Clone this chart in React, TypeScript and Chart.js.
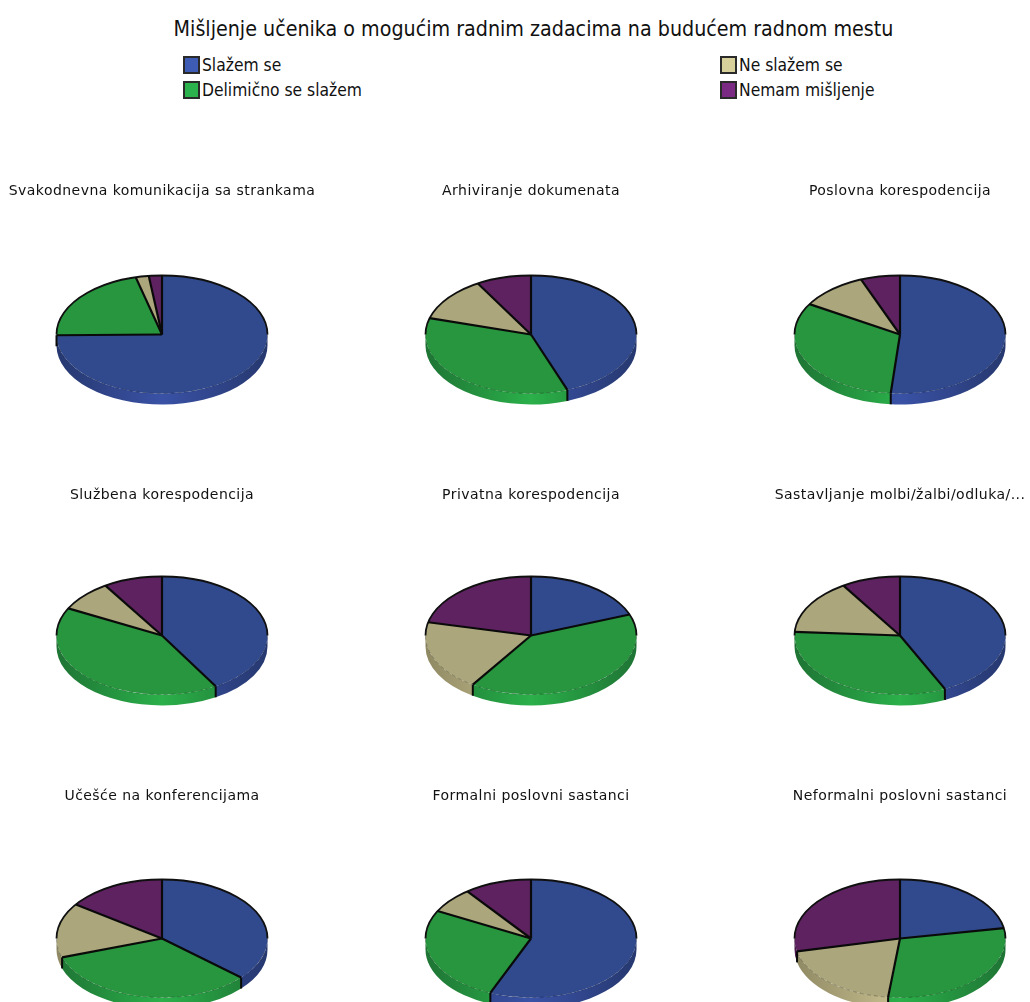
import React, { useEffect, useRef } from "react";
import { Chart, registerables } from "chart.js";

Chart.register(...registerables);

const mainTitle = "Mišljenje učenika o mogućim radnim zadacima na budućem radnom mestu";
const responses = ["Slažem se", "Delimično se slažem", "Ne slažem se", "Nemam mišljenje"];
const categories = [
  "Svakodnevna komunikacija sa strankama",
  "Arhiviranje dokumenata",
  "Poslovna korespodencija",
  "Službena korespodencija",
  "Privatna korespodencija",
  "Sastavljanje molbi/žalbi/odluka/...",
  "Učešće na konferencijama",
  "Formalni poslovni sastanci",
  "Neformalni poslovni sastanci",
];
const slazem = [74.8, 44.4, 51.4, 41.5, 19.2, 43, 36.5, 56.3, 22.2];
const delimicno = [21.2, 35.1, 32.2, 41.1, 40.1, 33, 33.3, 26.4, 29.6];
const neSlazem = [2, 12.1, 10.4, 8.4, 19.3, 15, 15, 7, 19.7];
const nemam = [2, 8.4, 6, 9, 21.4, 9, 15.2, 10.3, 28.5];

const topColors = ["#314a8d", "#27963e", "#aba67b", "#5e2260"];
const rimMid = ["#3a52a6", "#2bb04a", "#c9c091", "#6d2872"];
const rimEdge = ["#26386f", "#1e7434", "#8f8963", "#4a1a4c"];
const legendColors = ["#3f5cb4", "#2bb24c", "#d8d09b", "#7b2a84"];

const FONT = '"DejaVu Sans Condensed", "DejaVu Sans", sans-serif';
const SUB_FONT = '"DejaVu Sans", sans-serif';
const CANVAS_W = 330;
const RADIUS = 105.5;
const RY = 59;
const DEPTH = 11;
const centersX = [162, 531, 900];
const centersY = [334, 635, 938];
const titlesY = [191, 495, 796];

const pie3d = {
  id: "pie3d",
  beforeDraw(chart: any) {
    chart.ctx.letterSpacing = "0.45px";
  },
  beforeDatasetsDraw(chart: any) {
    const ctx = chart.ctx;
    const arcs = chart.getDatasetMeta(0).data;
    if (!arcs.length) return;
    const cx = arcs[0].x;
    const cy = arcs[0].y;
    const r = arcs[0].outerRadius;
    const ry = (r * RY) / RADIUS;
    arcs.forEach((arc: any, i: number) => {
      const a = Math.max(arc.startAngle, 0);
      const b = Math.min(arc.endAngle, Math.PI);
      if (b > a) {
        const g = ctx.createLinearGradient(cx - r, 0, cx + r, 0);
        g.addColorStop(0, rimEdge[i]);
        g.addColorStop(0.5, rimMid[i]);
        g.addColorStop(1, rimEdge[i]);
        ctx.beginPath();
        ctx.ellipse(cx, cy, r, ry, 0, a, b);
        ctx.ellipse(cx, cy + DEPTH, r, ry, 0, b, a, true);
        ctx.closePath();
        ctx.fillStyle = g;
        ctx.fill();
      }
    });
    ctx.save();
    ctx.translate(cx, cy);
    ctx.scale(1, RY / RADIUS);
    ctx.translate(-cx, -cy);
  },
  afterDatasetsDraw(chart: any) {
    const ctx = chart.ctx;
    const arcs = chart.getDatasetMeta(0).data;
    if (!arcs.length) return;
    ctx.restore();
    const cx = arcs[0].x;
    const cy = arcs[0].y;
    const r = arcs[0].outerRadius;
    const ry = (r * RY) / RADIUS;
    ctx.save();
    ctx.beginPath();
    ctx.ellipse(cx, cy, r, ry, 0, 0, Math.PI);
    ctx.setLineDash([4, 3]);
    ctx.lineWidth = 1;
    ctx.strokeStyle = "rgba(0,0,0,0.25)";
    ctx.stroke();
    ctx.setLineDash([]);
    ctx.beginPath();
    ctx.ellipse(cx, cy, r, ry, 0, Math.PI, 2 * Math.PI);
    ctx.lineWidth = 1.8;
    ctx.strokeStyle = "#101010";
    ctx.stroke();
    arcs.forEach((arc: any) => {
      const t = arc.startAngle;
      const px = cx + r * Math.cos(t);
      const py = cy + ry * Math.sin(t);
      ctx.beginPath();
      ctx.moveTo(cx, cy);
      ctx.lineTo(px, py);
      ctx.lineWidth = 2.2;
      ctx.strokeStyle = "#0a0a0a";
      ctx.stroke();
      if (Math.sin(t) > 0) {
        ctx.beginPath();
        ctx.moveTo(px, py);
        ctx.lineTo(px, py + DEPTH);
        ctx.lineWidth = 2;
        ctx.stroke();
      }
    });
    ctx.restore();
  },
};

function Pie({ index }: { index: number }) {
  const ref = useRef<HTMLCanvasElement | null>(null);
  const col = index % 3;
  const row = Math.floor(index / 3);
  const top = titlesY[row] - 8;
  const areaTop = Math.round(centersY[row] - RADIUS - top);
  useEffect(() => {
    const chart = new Chart(ref.current as HTMLCanvasElement, {
      type: "pie",
      data: {
        labels: responses,
        datasets: [
          {
            data: [slazem[index], delimicno[index], neSlazem[index], nemam[index]],
            backgroundColor: topColors,
            borderWidth: 0,
            hoverOffset: 0,
          },
        ],
      },
      options: {
        responsive: false,
        animation: false,
        layout: { padding: 0 },
        plugins: {
          legend: { display: false },
          tooltip: { enabled: false },
          title: {
            display: true,
            text: categories[index],
            color: "#111",
            font: { family: SUB_FONT, size: 14, weight: "normal", lineHeight: 1.2 },
            padding: { top: 0, bottom: areaTop - 16.8 },
          },
        },
      },
      plugins: [pie3d],
    } as any);
    return () => chart.destroy();
  }, [index]);
  return (
    <canvas
      ref={ref}
      width={CANVAS_W}
      height={areaTop + Math.ceil(2 * RADIUS)}
      style={{ position: "absolute", left: centersX[col] - CANVAS_W / 2, top, display: "block" }}
    />
  );
}

function LegendItem({ i, x, y }: { i: number; x: number; y: number }) {
  return (
    <div style={{ position: "absolute", left: x, top: y, height: 18, whiteSpace: "nowrap" }}>
      <span
        style={{
          position: "absolute",
          left: 0,
          top: 0,
          width: 13,
          height: 14,
          background: legendColors[i],
          border: "2px solid #2a2a2a",
          boxSizing: "content-box",
        }}
      />
      <span style={{ position: "absolute", left: 19, top: -1, fontSize: 17.3, lineHeight: "20px", color: "#111" }}>
        {responses[i]}
      </span>
    </div>
  );
}

export default function App() {
  return (
    <div
      style={{
        position: "fixed",
        left: 0,
        top: 0,
        width: 1030,
        height: 1002,
        overflow: "hidden",
        background: "#fff",
        fontFamily: FONT,
        filter: "blur(0.6px)",
      }}
    >
      <div
        style={{
          position: "absolute",
          left: 0,
          width: 1067,
          top: 16,
          textAlign: "center",
          fontSize: 21.25,
          lineHeight: "26px",
          color: "#111",
          whiteSpace: "nowrap",
        }}
      >
        {mainTitle}
      </div>
      <LegendItem i={0} x={183} y={56} />
      <LegendItem i={1} x={183} y={81} />
      <LegendItem i={2} x={720} y={56} />
      <LegendItem i={3} x={720} y={81} />
      {categories.map((_, i) => (
        <Pie key={i} index={i} />
      ))}
    </div>
  );
}
